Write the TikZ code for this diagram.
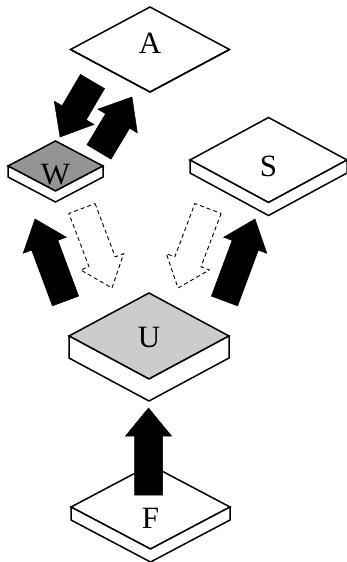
\documentclass[tikz,border=0pt]{standalone}
\usepackage{fontspec}
\setmainfont{Liberation Serif}
\usepackage{xcolor}
\usetikzlibrary{shapes.geometric,calc}

\definecolor{wgray}{gray}{0.58}
\definecolor{ugray}{gray}{0.80}

% block arrow from #2 to #3
\newcommand{\blockarrow}[3][]{%
    \coordinate (#2-base) at ($(#3)!28pt!(#2)$);
    \draw[#1] ($(#2)!14pt!90:(#3)$) -- ($(#2-base)!14pt!90:(#3)$)
        -- ($(#2-base)!23pt!90:(#3)$) -- (#3)
        -- ($(#2-base)!23pt!-90:(#3)$) -- ($(#2-base)!14pt!-90:(#3)$)
        -- ($(#2)!14pt!-90:(#3)$) -- cycle;
}

\begin{document}
\begin{tikzpicture}[x=1pt,y=-1pt]
    % Define styles
    \tikzstyle{plate}=[diamond, draw, line width=1.5pt, inner sep=0pt, outer sep=0pt, line join=miter]
    \tikzstyle{side}=[draw, fill=white, line width=1.5pt, line join=miter]
    \tikzstyle{letter}=[font=\fontsize{31}{31}\selectfont, inner sep=0pt]
    \tikzstyle{solid arrow}=[fill=black, draw=black, line width=0.5pt, line join=miter]
    \tikzstyle{hollow arrow}=[fill=white, draw=black, line width=0.9pt, dash pattern=on 4pt off 3pt]

    \useasboundingbox (0,0) rectangle (346,562);

    % Draw plates
    \foreach \plname/\plx/\ply/\plw/\plh/\plt/\plc in {A/150/49.5/159/85/0/white,
        W/55.5/166/95/50/11/wgray, S/268.5/160/157/85/13/white,
        U/149/336/160/86/22/ugray, F/150.5/507/159/84/13/white} {
        \node[plate, fill=\plc, minimum width=\plw pt, minimum height=\plh pt] (\plname) at (\plx,\ply) {};
        \draw[side] (\plname.west) -- ($(\plname.west)+(0,\plt)$) -- ($(\plname.south)+(0,\plt)$)
            -- ($(\plname.east)+(0,\plt)$) -- (\plname.east) -- (\plname.south) -- cycle;
    }

    % Labels
    \foreach \plname/\dy in {A/6.5, W/-9, S/-6, U/-1, F/-11} {
        \node[letter] (\plname-label) at ([yshift=\dy pt]\plname.center) {\plname};
    }

    % Arrow ends
    \coordinate (aw-s) at (92.5,81.5);  \coordinate (aw-t) at (60,137);
    \coordinate (wa-s) at (99,152);     \coordinate (wa-t) at (132,97);
    \coordinate (uw-s) at (65.5,301);   \coordinate (uw-t) at (35,219);
    \coordinate (wu-s) at (82,208.5);   \coordinate (wu-t) at (112,288);
    \coordinate (su-s) at (208,208.5);  \coordinate (su-t) at (178,288);
    \coordinate (us-s) at (224.5,301);  \coordinate (us-t) at (255,219);
    \coordinate (fu-s) at (148.5,495);  \coordinate (fu-t) at (148.5,408);

    % Draw arrows
    \foreach \a in {aw, wa, uw, us, fu} {
        \blockarrow[solid arrow]{\a-s}{\a-t}
    }
    \foreach \a in {wu, su} {
        \blockarrow[hollow arrow]{\a-s}{\a-t}
    }
\end{tikzpicture}
\end{document}
